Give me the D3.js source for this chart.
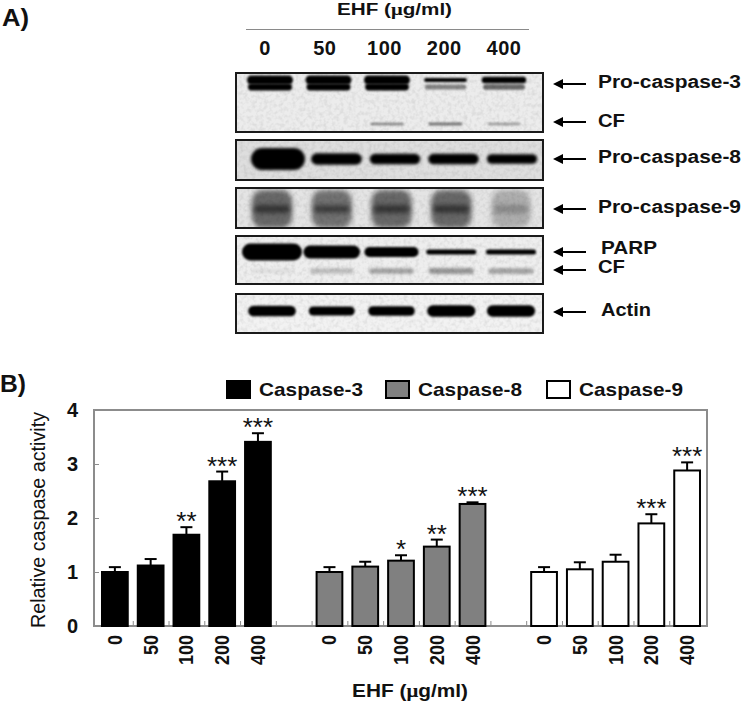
<!DOCTYPE html>
<html>
<head>
<meta charset="utf-8">
<style>
  html, body { margin: 0; background: #fff; }
  svg { display: block; }
  text { font-family: "Liberation Sans", Arial, sans-serif; fill: #111; }
  .bold { font-weight: bold; }
  .mu { font-family: "Liberation Serif", serif; }
</style>
<script src="https://cdnjs.cloudflare.com/ajax/libs/d3/7.8.5/d3.min.js"></script>
</head>
<body>
<div id="chart"></div>
<script>
/* Panel B values */
const doses = ["0", "50", "100", "200", "400"];
const caspases = ["Caspase-3", "Caspase-8", "Caspase-9"];
const yTicks = [0, 1, 2, 3, 4];

const casp3_values = [1.0, 1.12, 1.69, 2.68, 3.41];
const casp3_errors = [0.09, 0.12, 0.14, 0.18, 0.16];
const casp3_stars = ["", "", "**", "***", "***"];

const casp8_values = [1.0, 1.1, 1.21, 1.47, 2.26];
const casp8_errors = [0.09, 0.09, 0.1, 0.13, 0.03];
const casp8_stars = ["", "", "*", "**", "***"];

const casp9_values = [1.0, 1.05, 1.19, 1.9, 2.88];
const casp9_errors = [0.09, 0.13, 0.13, 0.17, 0.15];
const casp9_stars = ["", "", "", "***", "***"];

/* Panel A band strength per lane, 0 to 1 */
const casp3_upper_signal = [1, 1, 1, 0.8, 0.9];
const casp3_lower_signal = [1, 1, 0.95, 0.4, 0.5];
const casp3_cf_signal = [0, 0, 0.35, 0.4, 0.28];
const casp8_signal = [1, 0.64, 0.6, 0.6, 0.57];
const casp9_signal = [0.6, 0.55, 0.6, 0.6, 0.26];
const parp_signal = [1, 0.8, 0.65, 0.4, 0.4];
const parp_cf_signal = [0.06, 0.22, 0.35, 0.4, 0.35];
const actin_signal = [0.8, 0.65, 0.7, 0.85, 0.85];

const blot_labels = [
    {text: "Pro-caspase-3", x: 598, y: 88, length: 143, arrow: 84},
    {text: "CF", x: 598, y: 127, length: 27, arrow: 122},
    {text: "Pro-caspase-8", x: 598, y: 163, length: 143, arrow: 159},
    {text: "Pro-caspase-9", x: 598, y: 213, length: 143, arrow: 209},
    {text: "PARP", x: 601, y: 254, length: 56, arrow: 252},
    {text: "CF", x: 598, y: 273, length: 27, arrow: 270},
    {text: "Actin", x: 601, y: 316, length: 50, arrow: 312}
];

const width = 742, height = 702;

const svg = d3.select("#chart").append("svg")
    .attr("width", width)
    .attr("height", height);

const defs = svg.append("defs");
[0.9, 1.5, 2.5].forEach((b) => {
    defs.append("filter")
        .attr("id", "blur" + String(b).replace(".", ""))
        .attr("x", "-30%").attr("y", "-100%")
        .attr("width", "160%").attr("height", "300%")
        .append("feGaussianBlur").attr("stdDeviation", b);
});
const grain = defs.append("filter").attr("id", "grain")
    .attr("x", "0").attr("y", "0").attr("width", "100%").attr("height", "100%");
grain.append("feTurbulence")
    .attr("type", "fractalNoise").attr("baseFrequency", 0.25)
    .attr("numOctaves", 2).attr("seed", 4);
grain.append("feColorMatrix")
    .attr("values", "0 0 0 0 0  0 0 0 0 0  0 0 0 0 0  0.9 0 0 0 -0.36");

defs.append("marker")
    .attr("id", "arrowhead")
    .attr("viewBox", "0 0 10 10")
    .attr("refX", 1).attr("refY", 5)
    .attr("markerUnits", "userSpaceOnUse")
    .attr("markerWidth", 11).attr("markerHeight", 10)
    .attr("orient", "auto")
    .append("path").attr("d", "M0,0 L10,5 L0,10 Z").attr("fill", "#000");

const boldText = (g, str, x, y, size, length) => {
    const t = g.append("text").attr("class", "bold")
        .attr("x", x).attr("y", y)
        .attr("font-size", size)
        .text(str);
    if (length) t.attr("textLength", length).attr("lengthAdjust", "spacingAndGlyphs");
    return t;
};

const ehfTitle = (g, x, y, size, length) => {
    const t = boldText(g, "EHF (", x, y, size, null);
    t.append("tspan").attr("class", "mu").text("μ");
    t.append("tspan").text("g/ml)");
    t.attr("textLength", length).attr("lengthAdjust", "spacingAndGlyphs");
};

/* ---- Panel A ---- */
const panelA = svg.append("g");
boldText(panelA, "A)", 2, 26, 24, 27);
ehfTitle(panelA, 337, 15, 16, 115);
panelA.append("line")
    .attr("x1", 246).attr("x2", 529)
    .attr("y1", 29.5).attr("y2", 29.5)
    .attr("stroke", "#8a8a8a").attr("stroke-width", 1);

const lane_header = d3.scalePoint().domain(doses).range([265, 504]);
panelA.selectAll("text.lane").data(doses).enter().append("text")
    .attr("class", "lane bold")
    .attr("x", (d) => lane_header(d))
    .attr("y", 55)
    .attr("text-anchor", "middle")
    .attr("font-size", 20)
    .attr("letter-spacing", 0.5)
    .text((d) => d);

const blots = [
    {top: 73, bottom: 132, bg: "#ececec", lanes: [270, 504], rows: [
        {signal: casp3_upper_signal, y: 80, w: [43, 46], h: [4, 9], dark: 0.5, blur: "blur09", lo: 0.8},
        {signal: casp3_lower_signal, y: 87, w: [40, 44], h: [4, 7], dark: 0.9, blur: "blur09"},
        {signal: casp3_cf_signal, y: 124, w: [30, 40], h: [2, 4], dark: 0.8, blur: "blur09"}
    ]},
    {top: 140, bottom: 180, bg: "#dedede", lanes: [278, 512], rows: [
        {signal: casp8_signal, y: 159, w: [50, 54], h: [9, 22], dark: 0.55, blur: "blur15", lo: 0.55}
    ]},
    {top: 188, bottom: 228, bg: "#e4e4e4", lanes: [272, 511], rows: [
        {signal: casp9_signal, y: 209, w: [38, 42], h: [38, 38], dark: 1.1, blur: "blur25"},
        {signal: casp9_signal, y: 209, w: [34, 38], h: [7, 7], dark: 1.1, blur: "blur25"}
    ]},
    {top: 236, bottom: 284, bg: "#eeeeee", lanes: [272, 511], rows: [
        {signal: parp_signal, y: 252, w: [50, 60], h: [5, 17], dark: 0.4, blur: "blur09", lo: 0.4},
        {signal: parp_cf_signal, y: 271, w: [42, 50], h: [5, 7], dark: 1.1, blur: "blur15"}
    ]},
    {top: 294, bottom: 333, bg: "#f2f2f2", lanes: [272, 511], rows: [
        {signal: actin_signal, y: 311, w: [46, 50], h: [9, 13], dark: 0.5, blur: "blur09", lo: 0.65}
    ]}
];

blots.forEach((blot, i) => {
    const lane = d3.scalePoint().domain(doses).range(blot.lanes);
    defs.append("clipPath").attr("id", "clip" + i)
        .append("rect")
        .attr("x", 236).attr("y", blot.top)
        .attr("width", 307).attr("height", blot.bottom - blot.top);
    const g = panelA.append("g").attr("clip-path", "url(#clip" + i + ")");
    g.append("rect")
        .attr("x", 236).attr("y", blot.top)
        .attr("width", 307).attr("height", blot.bottom - blot.top)
        .attr("fill", blot.bg);
    g.append("rect")
        .attr("x", 236).attr("y", blot.top)
        .attr("width", 307).attr("height", blot.bottom - blot.top)
        .attr("filter", "url(#grain)")
        .attr("opacity", 0.18);
    blot.rows.forEach((row) => {
        const lo = row.lo || 0;
        const bandW = d3.scaleLinear().domain([lo, 1]).range(row.w).clamp(true);
        const bandH = d3.scaleLinear().domain([lo, 1]).range(row.h).clamp(true);
        const ink = d3.scaleLinear().domain([0, row.dark]).range([0, 1]).clamp(true);
        g.selectAll(null).data(row.signal.map((s, j) => ({s: s, dose: doses[j]}))).enter().append("rect")
            .attr("x", (d) => lane(d.dose) - bandW(d.s) / 2)
            .attr("y", (d) => row.y - bandH(d.s) / 2)
            .attr("width", (d) => bandW(d.s))
            .attr("height", (d) => bandH(d.s))
            .attr("rx", (d) => Math.min(bandH(d.s) / 2, 11))
            .attr("fill", "#000")
            .attr("opacity", (d) => ink(d.s))
            .attr("filter", "url(#" + row.blur + ")");
    });
    panelA.append("rect")
        .attr("x", 236).attr("y", blot.top)
        .attr("width", 307).attr("height", blot.bottom - blot.top)
        .attr("fill", "none").attr("stroke", "#1a1a1a").attr("stroke-width", 2);
});

blot_labels.forEach((l) => {
    boldText(panelA, l.text, l.x, l.y, 18, l.length);
    panelA.append("line")
        .attr("x1", 586).attr("x2", 562)
        .attr("y1", l.arrow).attr("y2", l.arrow)
        .attr("stroke", "#000").attr("stroke-width", 2)
        .attr("marker-end", "url(#arrowhead)");
});

/* ---- Panel B ---- */
const panelB = svg.append("g");
boldText(panelB, "B)", 0, 392, 24, 26);

const plot = {left: 94, right: 707, top: 410, bottom: 626};

const y = d3.scaleLinear().domain([0, 4]).range([plot.bottom, plot.top]);
const slots = d3.range(17);
const x = d3.scaleBand().domain(slots).range([97, 705]).paddingInner(0.28).paddingOuter(0.14);
const slot_edges = d3.scaleLinear().domain([0, 17]).range([97, 705]);

const series = [
    {name: caspases[0], values: casp3_values, errors: casp3_errors, stars: casp3_stars, start: 0, fill: "#000", legendX: 227, textX: 259},
    {name: caspases[1], values: casp8_values, errors: casp8_errors, stars: casp8_stars, start: 6, fill: "#808080", legendX: 386, textX: 418},
    {name: caspases[2], values: casp9_values, errors: casp9_errors, stars: casp9_stars, start: 12, fill: "#fff", legendX: 547, textX: 579}
];

/* legend */
series.forEach((s) => {
    panelB.append("rect")
        .attr("x", s.legendX).attr("y", 381)
        .attr("width", 23).attr("height", 17)
        .attr("fill", s.fill)
        .attr("stroke", "#000").attr("stroke-width", 2);
    boldText(panelB, s.name, s.textX, 396, 19, 104);
});

/* frame */
panelB.append("rect")
    .attr("x", plot.left).attr("y", plot.top)
    .attr("width", plot.right - plot.left).attr("height", plot.bottom - plot.top)
    .attr("fill", "none").attr("stroke", "#8c8c8c").attr("stroke-width", 2);

const yAxis_line = d3.axisLeft(y).tickValues(yTicks).tickSize(-5).tickPadding(16).tickFormat(d3.format("d"));
const yAxis = panelB.append("g")
    .attr("transform", "translate(" + plot.left + ",0)")
    .call(yAxis_line);
yAxis.select(".domain").remove();
yAxis.selectAll("line").attr("stroke", "#8c8c8c");
yAxis.selectAll("text")
    .attr("class", "bold")
    .attr("font-size", 20)
    .attr("font-family", "Liberation Sans")
    .attr("fill", "#111");

const xTicks_line = d3.axisBottom(slot_edges).tickValues(d3.range(1, 17)).tickSize(-5).tickFormat("");
const xTicks = panelB.append("g")
    .attr("transform", "translate(0," + plot.bottom + ")")
    .call(xTicks_line);
xTicks.select(".domain").remove();
xTicks.selectAll("line").attr("stroke", "#8c8c8c");

const bar_data = series.flatMap((s) => s.values.map((v, i) => ({
    slot: s.start + i,
    dose: doses[i],
    value: v,
    error: s.errors[i],
    star: s.stars[i],
    fill: s.fill
})));

const bars = panelB.selectAll("g.bar").data(bar_data).enter().append("g").attr("class", "bar");
const cx = (d) => x(d.slot) + x.bandwidth() / 2;

bars.append("line")
    .attr("x1", cx).attr("x2", cx)
    .attr("y1", (d) => y(d.value))
    .attr("y2", (d) => y(d.value + d.error))
    .attr("stroke", "#000").attr("stroke-width", 2);
bars.append("line")
    .attr("x1", (d) => cx(d) - 6).attr("x2", (d) => cx(d) + 6)
    .attr("y1", (d) => y(d.value + d.error))
    .attr("y2", (d) => y(d.value + d.error))
    .attr("stroke", "#000").attr("stroke-width", 2);
bars.append("rect")
    .attr("x", (d) => x(d.slot))
    .attr("y", (d) => y(d.value))
    .attr("width", x.bandwidth())
    .attr("height", (d) => y(0) - y(d.value))
    .attr("fill", (d) => d.fill)
    .attr("stroke", "#000").attr("stroke-width", 2);
bars.append("text")
    .attr("x", cx)
    .attr("y", (d) => y(d.value + d.error) + 3)
    .attr("text-anchor", "middle")
    .attr("font-size", 26)
    .text((d) => d.star);
bars.append("text")
    .attr("class", "bold")
    .attr("transform", (d) => "translate(" + (cx(d) + 7) + ",635) rotate(-90)")
    .attr("text-anchor", "end")
    .attr("font-size", 20)
    .attr("textLength", (d) => d.dose.length * 10)
    .attr("lengthAdjust", "spacingAndGlyphs")
    .text((d) => d.dose);

panelB.append("text")
    .attr("transform", "translate(45,628) rotate(-90)")
    .attr("font-size", 20)
    .attr("textLength", 216)
    .attr("lengthAdjust", "spacingAndGlyphs")
    .text("Relative caspase activity");

ehfTitle(panelB, 352, 697, 18, 116);
</script>
</body>
</html>
